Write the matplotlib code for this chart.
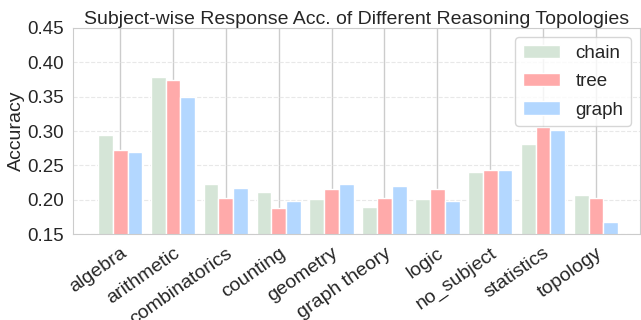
import numpy as np
import matplotlib
matplotlib.use("Agg")
import matplotlib.pyplot as plt
import seaborn as sns

sns.set_style("whitegrid")
plt.rcParams['font.family'] = ['Liberation Sans', 'DejaVu Sans']

# data
subjects = ["algebra", "arithmetic", "combinatorics", "counting", "geometry",
            "graph theory", "logic", "no_subject", "statistics", "topology"]
chain = [0.294, 0.378, 0.223, 0.211, 0.201, 0.190, 0.201, 0.241, 0.281, 0.207]
tree = [0.272, 0.374, 0.203, 0.188, 0.216, 0.202, 0.216, 0.244, 0.306, 0.203]
graph = [0.270, 0.349, 0.217, 0.199, 0.223, 0.220, 0.198, 0.244, 0.302, 0.168]
yticks = [0.15, 0.20, 0.25, 0.30, 0.35, 0.40, 0.45]

x = np.arange(len(subjects))
w = 0.28

fig, ax = plt.subplots(figsize=(6.41, 3.2), dpi=100)
ax.bar(x - w, chain, w, color="#d5e5d7", edgecolor="white", linewidth=1, label="chain")
ax.bar(x, tree, w, color="#ffaaaa", edgecolor="white", linewidth=1, label="tree")
ax.bar(x + w, graph, w, color="#b3d7ff", edgecolor="white", linewidth=1, label="graph")

ax.set_ylim(0.15, 0.45)
ax.set_yticks(yticks)
ax.set_yticklabels(["%.2f" % v for v in yticks])
ax.set_xlim(-0.89, 9.84)
ax.set_xticks(x)
ax.set_xticklabels(subjects, rotation=35, ha="right", rotation_mode="anchor", fontsize=14)
ax.tick_params(axis="y", labelsize=13.5, pad=3)
ax.tick_params(axis="x", pad=4)
ax.set_ylabel("Accuracy", fontsize=14, labelpad=2)
ax.set_title("Subject-wise Response Acc. of Different Reasoning Topologies", fontsize=14, pad=3)

ax.yaxis.grid(True, linestyle="--", color="#e8e8e8", linewidth=0.8)
ax.xaxis.grid(True, color="#cccccc", linewidth=1)
ax.set_axisbelow(True)
for s in ax.spines.values():
    s.set_color("#cccccc")

ax.legend(loc="upper right", fontsize=13.5, labelspacing=0.6)

fig.subplots_adjust(left=0.114, right=0.999, top=0.913, bottom=0.268)
fig.savefig("out.png", dpi=100)
